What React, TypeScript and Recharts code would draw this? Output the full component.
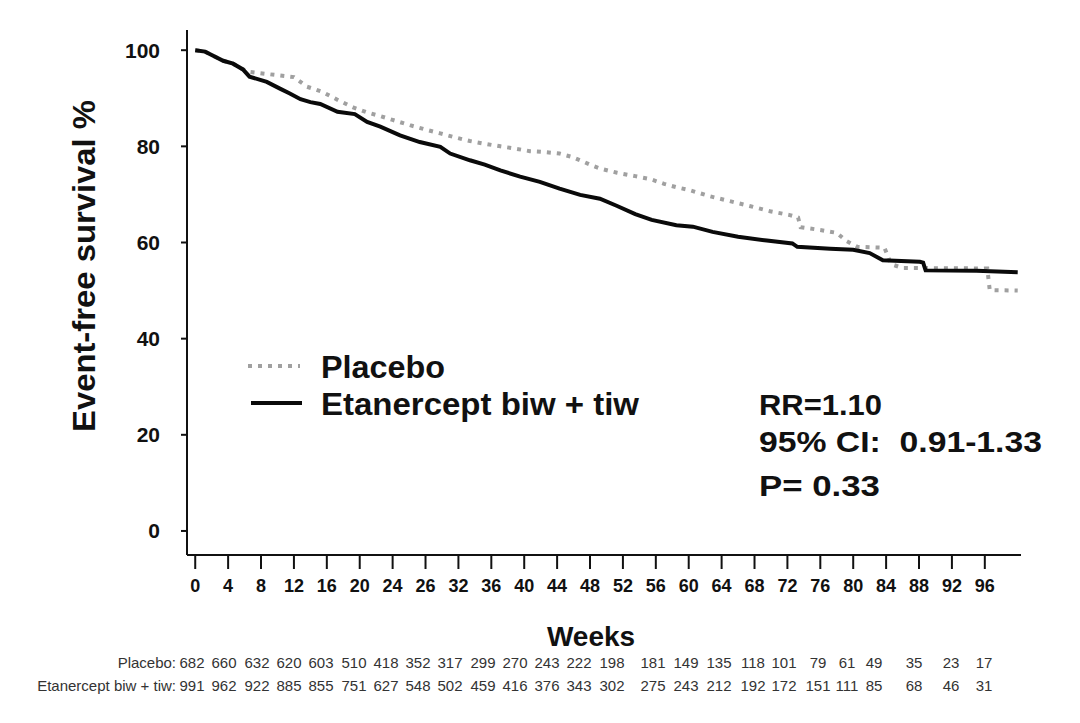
import { LineChart, Line, XAxis, YAxis } from "recharts";

// Kaplan-Meier curves: [week, event-free survival %]
const placeboCurve: [number, number][] = [
  [0, 100], [1.2, 99.7], [2, 99], [3.4, 97.8], [4.6, 97.2], [5.8, 96],
  [6.6, 95.5], [9, 95], [12, 94.4], [13.6, 92.4], [15.5, 91.3], [17.5, 89.5],
  [19.2, 88.1], [21, 87], [22.5, 86.3], [24, 85.5], [26.1, 84.4], [28, 83.5],
  [29.8, 82.7], [31.5, 81.9], [33.4, 81.1], [35, 80.6], [37.1, 80], [39, 79.5],
  [40.7, 79], [42.5, 78.8], [44.3, 78.5], [45.8, 77.8], [46.8, 77.1], [48, 76.2],
  [49.2, 75.4], [51.3, 74.5], [53.5, 73.8], [55.3, 73.2], [57, 72.2], [58.5, 71.5],
  [60.1, 70.9], [62.6, 69.6], [65, 68.6], [67.4, 67.6], [69.9, 66.5], [72.3, 65.7],
  [73.3, 65.2], [73.6, 63.2], [76, 62.6], [78, 62], [79.2, 60.3], [80.5, 59.1],
  [83.8, 58.9], [84.6, 55.5], [86, 54.7], [96.3, 54.6], [96.6, 50.1], [100, 50],
];

const etanerceptCurve: [number, number][] = [
  [0, 100], [1.2, 99.7], [2, 99], [3.4, 97.8], [4.6, 97.2], [5.8, 96],
  [6.6, 94.5], [8.7, 93.4], [10.3, 92], [11.5, 91], [12.8, 89.8], [14, 89.2],
  [15.2, 88.8], [17.3, 87.2], [19.4, 86.7], [20.9, 85.1], [22.5, 84.1], [24.9, 82.3],
  [27.3, 80.9], [29.8, 79.9], [31, 78.5], [33.4, 77.1], [35.2, 76.2], [37.1, 75],
  [39.5, 73.7], [41.9, 72.6], [44.3, 71.2], [46.8, 69.9], [49.2, 69.1], [51.3, 67.6],
  [53.5, 65.9], [55.5, 64.7], [58.5, 63.6], [60.5, 63.3], [62.9, 62.2], [66, 61.2],
  [69.5, 60.4], [72.6, 59.8], [73.2, 59.1], [77.2, 58.7], [80, 58.5], [82, 57.8],
  [83.6, 56.3], [88.1, 56], [88.5, 55.8], [88.8, 54.2], [95, 54.1], [100, 53.8],
];

const weekTicks = [0, 4, 8, 12, 16, 20, 24, 28, 32, 36, 40, 44, 48, 52, 56, 60, 64, 68, 72, 76, 80, 84, 88, 92, 96];
// printed labels as in the figure (the 28 tick reads "26")
const weekLabels = ["0", "4", "8", "12", "16", "20", "24", "26", "32", "36", "40", "44", "48", "52", "56", "60", "64", "68", "72", "76", "80", "84", "88", "92", "96"];
const survivalTicks = [0, 20, 40, 60, 80, 100];

const placeboAtRisk = [682, 660, 632, 620, 603, 510, 418, 352, 317, 299, 270, 243, 222, 198, 181, 149, 135, 118, 101, 79, 61, 49, 35, 23, 17];
const etanerceptAtRisk = [991, 962, 922, 885, 855, 751, 627, 548, 502, 459, 416, 376, 343, 302, 275, 243, 212, 192, 172, 151, 111, 85, 68, 46, 31];

const statLines = ["RR=1.10", "95% CI:  0.91-1.33", "P= 0.33"];

// layout: x centres of the at-risk columns, widths of the stat lines
const atRiskX = [191, 223, 256, 288, 320, 353, 385, 417, 449, 482, 514, 546, 578, 611, 652, 685, 718, 752, 783, 817, 846, 873, 913, 950, 983];
const statWidths = [123, 283, 121];

const placeboData = placeboCurve.map(([week, value]) => ({ week, value }));
const etanerceptData = etanerceptCurve.map(([week, value]) => ({ week, value }));

const FONT = "'Liberation Sans', Arial, Helvetica, sans-serif";

export default function App() {
  return (
    <div style={{ position: "relative", width: 1080, height: 723, background: "#fff", fontFamily: FONT }}>
      <style>{"body{margin:0}"}</style>
      <LineChart
        width={1080}
        height={723}
        margin={{ top: 30, right: 59, bottom: 128, left: 87 }}
      >
        <XAxis
          type="number"
          dataKey="week"
          domain={[-1, 100.4]}
          ticks={weekTicks}
          tickFormatter={(v, i) => weekLabels[i] ?? String(v)}
          allowDataOverflow
          height={40}
          tickSize={14}
          tickMargin={10}
          axisLine={{ stroke: "#111", strokeWidth: 2 }}
          tickLine={{ stroke: "#111", strokeWidth: 2 }}
          tick={{ fontSize: 18, fontWeight: 700, fill: "#111", fontFamily: FONT }}
          interval={0}
        />
        <YAxis
          type="number"
          domain={[-5, 104.2]}
          ticks={survivalTicks}
          allowDataOverflow
          width={100}
          tickSize={6}
          tickMargin={21}
          axisLine={{ stroke: "#111", strokeWidth: 2 }}
          tickLine={{ stroke: "#111", strokeWidth: 2 }}
          tick={{ fontSize: 21, fontWeight: 700, fill: "#111", fontFamily: FONT }}
        />
        <Line
          data={placeboData}
          dataKey="value"
          type="linear"
          stroke="#a0a0a0"
          strokeWidth={4}
          strokeDasharray="4 6"
          dot={false}
          isAnimationActive={false}
        />
        <Line
          data={etanerceptData}
          dataKey="value"
          type="linear"
          stroke="#0a0a0a"
          strokeWidth={4}
          dot={false}
          isAnimationActive={false}
        />
      </LineChart>

      <svg
        width={1080}
        height={723}
        style={{ position: "absolute", left: 0, top: 0, pointerEvents: "none" }}
        fontFamily={FONT}
      >
        <text
          transform="translate(95, 266) rotate(-90)"
          textAnchor="middle"
          fontSize={31}
          fontWeight={700}
          fill="#111"
          textLength={332}
          lengthAdjust="spacingAndGlyphs"
        >
          Event-free survival %
        </text>

        {/* legend */}
        <line x1={248} y1={366} x2={300} y2={366} stroke="#a0a0a0" strokeWidth={4} strokeDasharray="4 6" />
        <text x={321} y={378} fontSize={31} fontWeight={700} fill="#111" textLength={124} lengthAdjust="spacingAndGlyphs">Placebo</text>
        <line x1={251} y1={403} x2={302} y2={403} stroke="#0a0a0a" strokeWidth={4} />
        <text x={321} y={415} fontSize={31} fontWeight={700} fill="#111" textLength={318} lengthAdjust="spacingAndGlyphs">
          Etanercept biw + tiw
        </text>

        {/* statistics */}
        {statLines.map((s, i) => (
          <text
            key={s}
            x={759}
            y={[415, 452, 496][i]}
            fontSize={30}
            fontWeight={700}
            fill="#111"
            xmlSpace="preserve"
            textLength={statWidths[i]}
            lengthAdjust="spacingAndGlyphs"
          >
            {s}
          </text>
        ))}

        <text x={591} y={646} textAnchor="middle" fontSize={28} fontWeight={700} fill="#111">Weeks</text>

        {/* numbers at risk */}
        <text x={176} y={668} textAnchor="end" fontSize={15} fill="#333">Placebo:</text>
        <text x={176} y={691} textAnchor="end" fontSize={15} fill="#333">Etanercept biw + tiw:</text>
        {placeboAtRisk.map((n, i) => (
          <text key={`p${i}`} x={atRiskX[i] + 1} y={668} textAnchor="middle" fontSize={15} fill="#333">{n}</text>
        ))}
        {etanerceptAtRisk.map((n, i) => (
          <text key={`e${i}`} x={atRiskX[i] + 1} y={691} textAnchor="middle" fontSize={15} fill="#333">{n}</text>
        ))}
      </svg>
    </div>
  );
}
